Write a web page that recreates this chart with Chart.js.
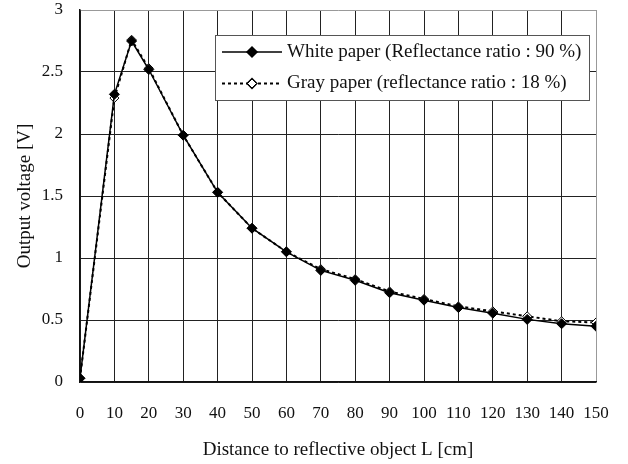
<!DOCTYPE html>
<html>
<head>
<meta charset="utf-8">
<script src="https://cdn.jsdelivr.net/npm/chart.js@4.4.1/dist/chart.umd.min.js"></script>
<style>
    html, body { margin: 0; padding: 0; background: #fff; }
    #wrap { width: 628px; height: 464px; }
</style>
</head>
<body>
<div id="wrap"><canvas id="grafico" width="628" height="464"></canvas></div>
<script>
// Datos
const distancias = [0, 10, 15, 20, 30, 40, 50, 60, 70, 80, 90, 100, 110, 120, 130, 140, 150];
const papelBlanco = [0.03, 2.32, 2.75, 2.52, 1.99, 1.53, 1.24, 1.05, 0.90, 0.82, 0.72, 0.66, 0.60, 0.555, 0.505, 0.47, 0.45];
const papelGris = [0.03, 2.29, 2.76, 2.53, 1.99, 1.53, 1.24, 1.05, 0.91, 0.83, 0.73, 0.67, 0.61, 0.57, 0.53, 0.49, 0.48];
const etiquetas = ['White paper (Reflectance ratio : 90 %)', 'Gray paper (reflectance ratio : 18 %)'];
const tituloX = 'Distance to reflective object L [cm]';
const tituloY = 'Output voltage [V]';

const fuente = '"Liberation Serif", "Times New Roman", serif';

function aPuntos(ys) {
    return distancias.map((x, i) => ({ x: x, y: ys[i] }));
}

// Leyenda dibujada a mano, con recuadro blanco como en el original
const leyendaPlugin = {
    id: 'leyendaCaja',
    afterDraw(chart) {
        const ctx = chart.ctx;
        const area = chart.chartArea;
        const x0 = area.left + 135, y0 = area.top + 25;
        const w = 374, h = 65;
        ctx.save();
        ctx.fillStyle = '#fff';
        ctx.strokeStyle = '#555';
        ctx.lineWidth = 1;
        ctx.fillRect(x0, y0, w, h);
        ctx.strokeRect(x0 + 0.5, y0 + 0.5, w, h);

        chart.data.datasets.forEach((ds, i) => {
            const cy = y0 + 17 + i * 31.5;
            ctx.beginPath();
            ctx.setLineDash(ds.borderDash || []);
            ctx.lineWidth = ds.borderWidth;
            ctx.strokeStyle = ds.borderColor;
            ctx.moveTo(x0 + 7, cy);
            ctx.lineTo(x0 + 67, cy);
            ctx.stroke();
            ctx.setLineDash([]);
            Chart.helpers.drawPoint(ctx, {
                pointStyle: 'rectRot',
                radius: ds.pointRadius,
                borderWidth: ds.pointBorderWidth
            }, x0 + 37, cy);
            ctx.fillStyle = ds.pointBackgroundColor;
            ctx.strokeStyle = ds.pointBorderColor;
            ctx.lineWidth = ds.pointBorderWidth;
            ctx.fill();
            ctx.stroke();

            ctx.fillStyle = '#111';
            ctx.font = '19px ' + fuente;
            ctx.textBaseline = 'middle';
            ctx.textAlign = 'left';
            ctx.fillText(etiquetas[i], x0 + 72, cy);
        });
        ctx.restore();
    }
};

const ctxGrafico = document.getElementById('grafico').getContext('2d');
new Chart(ctxGrafico, {
    type: 'line',
    data: {
        datasets: [
            {
                label: etiquetas[0],
                data: aPuntos(papelBlanco),
                borderColor: '#000',
                borderWidth: 1.5,
                pointStyle: 'rectRot',
                pointRadius: 5,
                pointBackgroundColor: '#000',
                pointBorderColor: '#000',
                pointBorderWidth: 1,
                tension: 0
            },
            {
                label: etiquetas[1],
                data: aPuntos(papelGris),
                borderColor: '#000',
                borderWidth: 2,
                borderDash: [3, 3],
                pointStyle: 'rectRot',
                pointRadius: 4.5,
                pointBackgroundColor: '#fff',
                pointBorderColor: '#000',
                pointBorderWidth: 1,
                tension: 0
            }
        ]
    },
    options: {
        responsive: false,
        animation: false,
        layout: { padding: { top: 10, right: 32, left: 0, bottom: 0 } },
        plugins: {
            legend: { display: false },
            tooltip: { enabled: false }
        },
        scales: {
            x: {
                type: 'linear',
                min: 0,
                max: 150,
                afterFit(scale) {
                    scale.height = 82;
                    scale.paddingRight = 0;
                },
                ticks: {
                    stepSize: 10,
                    color: '#111',
                    padding: 21,
                    maxRotation: 0,
                    font: { family: fuente, size: 17 }
                },
                grid: {
                    color: (c) => c.tick && c.tick.value === 150 ? '#999' : '#222',
                    lineWidth: 1,
                    drawTicks: false
                },
                border: { color: '#111', width: 1.5 },
                title: {
                    display: true,
                    text: tituloX,
                    color: '#111',
                    padding: { top: 0, bottom: 3 },
                    font: { family: fuente, size: 19 }
                }
            },
            y: {
                min: 0,
                max: 3,
                afterFit(scale) {
                    scale.width = 80;
                    scale.paddingTop = 0;
                    scale.paddingBottom = 0;
                },
                ticks: {
                    stepSize: 0.5,
                    color: '#111',
                    padding: 17,
                    font: { family: fuente, size: 17 },
                    callback: (v) => String(v)
                },
                grid: {
                    color: (c) => c.tick && c.tick.value === 3 ? '#999' : '#222',
                    lineWidth: 1,
                    drawTicks: false
                },
                border: { color: '#111', width: 1.5 },
                title: {
                    display: true,
                    text: tituloY,
                    color: '#111',
                    padding: { top: 14, bottom: 0 },
                    font: { family: fuente, size: 19 }
                }
            }
        }
    },
    plugins: [leyendaPlugin]
});
</script>
</body>
</html>
